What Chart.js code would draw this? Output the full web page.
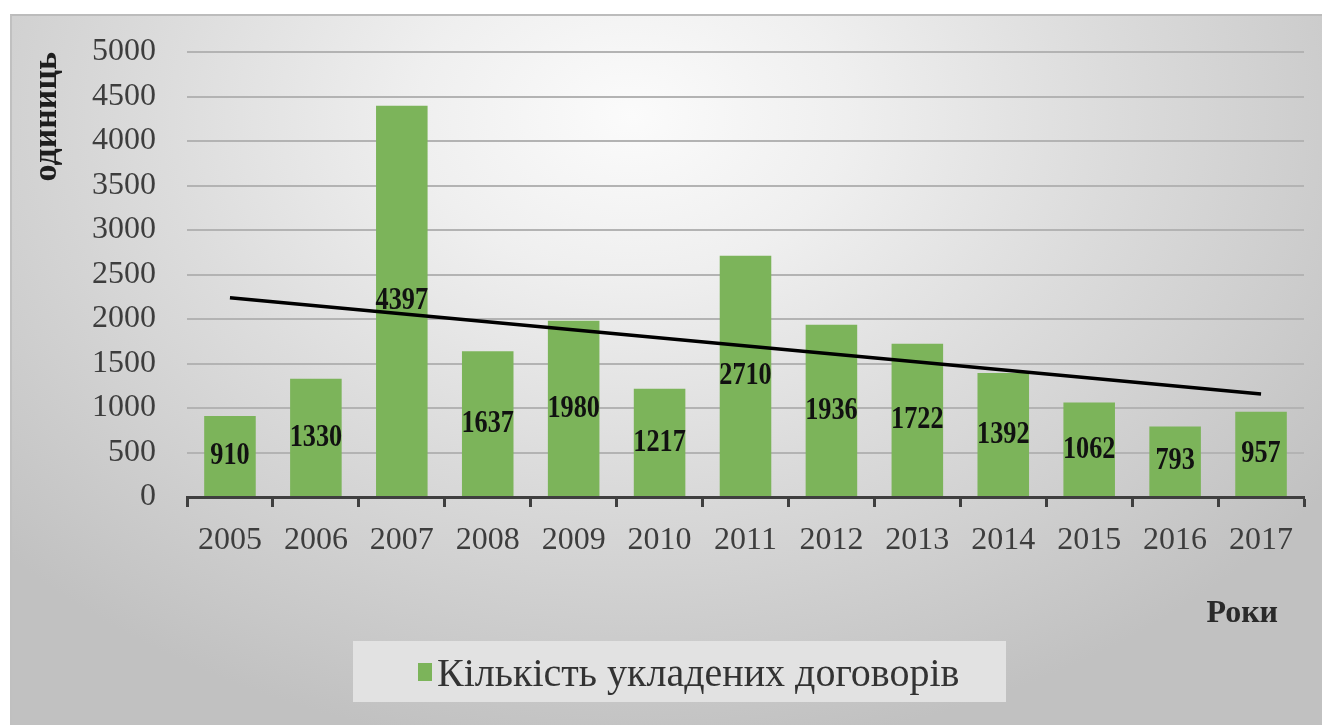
<!DOCTYPE html>
<html lang="uk">
<head>
<meta charset="utf-8">
<title>Кількість укладених договорів</title>
<script src="https://cdn.jsdelivr.net/npm/chart.js@4.4.1/dist/chart.umd.min.js"></script>
<style>
  html, body { margin: 0; padding: 0; background: #ffffff; }
  #panel {
    position: absolute; left: 10px; top: 14px; width: 1312px; height: 711px;
    box-sizing: border-box;
    border-top: 2px solid #bcbcbc; border-left: 2px solid #c0c0c0;
    background: radial-gradient(ellipse 860px 640px at 620px 100px,
      #fbfbfb 0%, #efefef 25%, #dcdcdc 55%, #cdcdcd 80%, #c1c1c1 100%);
  }
  #wrap { position: absolute; left: 0; top: 0; width: 1322px; height: 725px; }
</style>
</head>
<body>
<div id="panel"></div>
<div id="wrap"><canvas id="chart"></canvas></div>
<script>
// Years on the horizontal axis
const years = ['2005', '2006', '2007', '2008', '2009', '2010', '2011',
               '2012', '2013', '2014', '2015', '2016', '2017'];
// Number of concluded contracts per year
const contracts = [910, 1330, 4397, 1637, 1980, 1217, 2710, 1936, 1722, 1392, 1062, 793, 957];
// Linear trend: values at the first and last year
const trendStart = 2239;
const trendEnd = 1157;
// Value axis range and step
const yMin = 0;
const yMax = 5000;
const yStep = 500;

const seriesLabel = 'Кількість укладених договорів';
const yTitle = 'одиниць';
const xTitle = 'Роки';

const barColor = '#7cb45a';
const serif = '"Liberation Serif", "Times New Roman", serif';

// trend dataset: only the two end years carry values, the line spans the gap
const trendData = years.map((_, i) => i === 0 ? trendStart : (i === years.length - 1 ? trendEnd : null));

// value labels centred inside each bar
const barValueLabels = {
  id: 'barValueLabels',
  afterDatasetsDraw(chart) {
    const ctx = chart.ctx;
    chart.data.datasets.forEach((ds, di) => {
      if (ds.type !== 'bar') return;
      const meta = chart.getDatasetMeta(di);
      meta.data.forEach((el, i) => {
        const c = el.getCenterPoint();
        ctx.save();
        ctx.translate(c.x, c.y);
        ctx.scale(0.82, 1);
        ctx.font = 'bold 32px ' + serif;
        ctx.fillStyle = '#111111';
        ctx.textAlign = 'center';
        ctx.textBaseline = 'middle';
        ctx.fillText(String(ds.data[i]), 0, 0);
        ctx.restore();
      });
    });
  }
};

// caption of the year axis and the legend panel under the chart
const captions = {
  id: 'captions',
  afterDraw(chart) {
    const ctx = chart.ctx;
    const area = chart.chartArea;
    ctx.save();
    ctx.font = 'bold 32px ' + serif;
    ctx.fillStyle = '#2a2a2a';
    ctx.textAlign = 'right';
    ctx.textBaseline = 'alphabetic';
    ctx.fillText(xTitle, area.right - 26, 622);

    const ds = chart.data.datasets.find(d => d.type === 'bar');
    ctx.fillStyle = '#e2e2e2';
    ctx.fillRect(353, 641, 653, 61);
    ctx.fillStyle = ds.backgroundColor;
    ctx.fillRect(418, 663, 14, 18);
    ctx.font = '40px ' + serif;
    ctx.fillStyle = '#333333';
    ctx.textAlign = 'left';
    ctx.fillText(ds.label, 437, 686);
    ctx.restore();
  }
};

new Chart(document.getElementById('chart'), {
  data: {
    labels: years,
    datasets: [
      {
        type: 'line',
        label: 'Тренд',
        data: trendData,
        spanGaps: true,
        borderColor: '#000000',
        borderWidth: 3.5,
        pointRadius: 0,
        tension: 0,
        order: 1
      },
      {
        type: 'bar',
        label: seriesLabel,
        data: contracts,
        backgroundColor: barColor,
        borderWidth: 0,
        categoryPercentage: 1,
        barPercentage: 0.6,
        order: 2
      }
    ]
  },
  options: {
    responsive: true,
    maintainAspectRatio: false,
    animation: false,
    events: [],
    layout: { padding: { left: 20, right: 18, top: 52, bottom: 0 } },
    plugins: {
      legend: { display: false },
      tooltip: { enabled: false },
      title: { display: false }
    },
    scales: {
      x: {
        offset: true,
        afterFit(scale) { scale.height = 228; },
        grid: {
          offset: true,
          drawOnChartArea: false,
          drawTicks: true,
          tickLength: 10,
          tickWidth: 3,
          tickColor: '#3f3f3f'
        },
        border: { display: true, color: '#3f3f3f', width: 3 },
        ticks: {
          color: '#3d3d3d',
          padding: 14,
          maxRotation: 0,
          font: { family: serif, size: 32, lineHeight: 1.2 }
        }
      },
      y: {
        min: yMin,
        max: yMax,
        afterFit(scale) { scale.width = 167; },
        grid: { color: '#b3b3b3', lineWidth: 2, drawTicks: false },
        border: { display: false },
        ticks: {
          stepSize: yStep,
          color: '#3d3d3d',
          padding: 31,
          font: { family: serif, size: 32, lineHeight: 1.2 },
          callback: (value) => String(value)
        },
        title: {
          display: true,
          text: yTitle,
          align: 'end',
          color: '#1e1e1e',
          padding: { top: 7, bottom: 0 },
          font: { family: serif, size: 34, weight: 'bold', lineHeight: 1.2 }
        }
      }
    }
  },
  plugins: [barValueLabels, captions]
});
</script>
</body>
</html>
